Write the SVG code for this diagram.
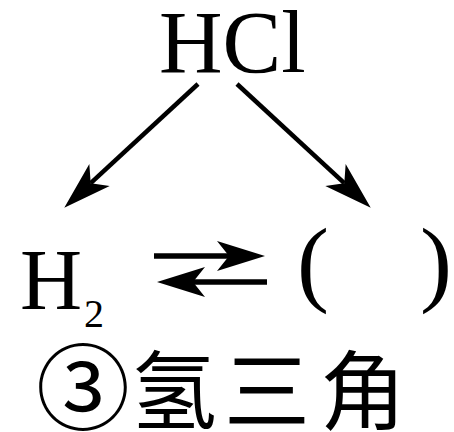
<svg xmlns="http://www.w3.org/2000/svg" width="454" height="432" viewBox="0 0 454 432">
<style>
.f{font-family:"Liberation Serif","Times New Roman",serif;fill:#000}
.c{font-family:"Noto Sans CJK SC",sans-serif;fill:#000}
.ln{stroke:#000;fill:none}
</style>
<defs>
<marker id="ah" markerUnits="userSpaceOnUse" orient="auto" refX="0" refY="0" markerWidth="60" markerHeight="40" overflow="visible">
<path d="M36,0 L-12,-15 L0,0 L-12,15 Z" fill="#000"/>
</marker>
</defs>
<rect width="454" height="432" fill="#fff"/>
<g id="hcl"><text class="f" x="159" y="72" font-size="88">HCl</text></g>
<g id="h2"><text class="f" x="20" y="309" font-size="86">H<tspan font-size="40" x="84" y="327">2</tspan></text></g>
<g id="blank"><text class="f" x="297" y="294" font-size="96">(</text><text class="f" x="420" y="294" font-size="96">)</text></g>
<g id="connectors">
<line class="ln" stroke-width="4.5" x1="198" y1="84" x2="90.7" y2="183.2" marker-end="url(#ah)"/>
<line class="ln" stroke-width="4.5" x1="237" y1="84" x2="344.3" y2="183.2" marker-end="url(#ah)"/>
<line class="ln" stroke-width="5.5" x1="154" y1="256" x2="229" y2="256" marker-end="url(#ah)"/>
<line class="ln" stroke-width="5.5" x1="267" y1="282" x2="193" y2="282" marker-end="url(#ah)"/>
</g>
<g id="caption"><text class="c" y="420" font-size="86"><tspan x="36" font-size="94" y="423">③</tspan><tspan x="131">氢</tspan><tspan x="224">三</tspan><tspan x="320">角</tspan></text></g>
</svg>
